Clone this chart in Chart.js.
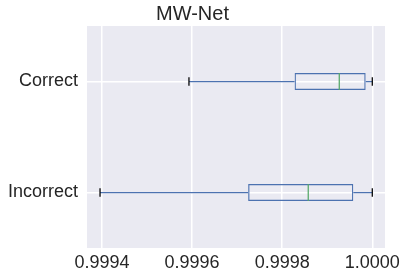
<!DOCTYPE html>
<html>
<head>
<meta charset="utf-8">
<script src="https://cdn.jsdelivr.net/npm/chart.js@4"></script>
<style>
  html, body { margin: 0; padding: 0; background: #ffffff; }
  #wrap { width: 407px; height: 280px; }
</style>
</head>
<body>
<div id="wrap"><canvas id="boxChart"></canvas></div>
<script>
// Data
const categories = ['Correct', 'Incorrect'];
const whiskerLow = [0.999593, 0.9993956];
const q1 = [0.9998275, 0.9997244];
const median = [0.9999267, 0.9998578];
const q3 = [0.9999853, 0.9999578];
const whiskerHigh = [1.0, 1.0];
const xTicks = [0.9994, 0.9996, 0.9998, 1.0];

const boxColor = '#4C72B0';
const medianColor = '#55A868';
const capColor = '#000000';

// grey plot background (seaborn darkgrid look)
const bgPlugin = {
    id: 'bgPlugin',
    beforeDraw(chart) {
        const a = chart.chartArea;
        const ctx = chart.ctx;
        ctx.save();
        ctx.fillStyle = '#EAEAF2';
        ctx.fillRect(a.left, a.top, a.right - a.left, a.bottom - a.top);
        ctx.restore();
    }
};

// whiskers, caps and medians, placed with the chart scales
const whiskerPlugin = {
    id: 'whiskerPlugin',
    afterDatasetsDraw(chart) {
        const ctx = chart.ctx;
        const x = chart.scales.x;
        const y = chart.scales.y;
        const meta = chart.getDatasetMeta(0);
        ctx.save();
        categories.forEach((c, i) => {
            const yc = y.getPixelForValue(i);
            const half = meta.data[i].height / 2;
            const capHalf = half / 2;

            ctx.lineWidth = 1.25;
            ctx.strokeStyle = boxColor;
            ctx.beginPath();
            ctx.moveTo(x.getPixelForValue(whiskerLow[i]), yc);
            ctx.lineTo(x.getPixelForValue(q1[i]), yc);
            ctx.moveTo(x.getPixelForValue(q3[i]), yc);
            ctx.lineTo(x.getPixelForValue(whiskerHigh[i]), yc);
            ctx.stroke();

            ctx.strokeStyle = capColor;
            ctx.beginPath();
            [whiskerLow[i], whiskerHigh[i]].forEach(v => {
                const px = x.getPixelForValue(v);
                ctx.moveTo(px, yc - capHalf);
                ctx.lineTo(px, yc + capHalf);
            });
            ctx.stroke();

            ctx.strokeStyle = medianColor;
            ctx.beginPath();
            const mx = x.getPixelForValue(median[i]);
            ctx.moveTo(mx, yc - half);
            ctx.lineTo(mx, yc + half);
            ctx.stroke();
        });
        ctx.restore();
    }
};

const ctx = document.getElementById('boxChart').getContext('2d');
const boxChart = new Chart(ctx, {
    type: 'bar',
    data: {
        labels: categories,
        datasets: [{
            label: 'box',
            data: categories.map((c, i) => [q1[i], q3[i]]),
            backgroundColor: 'rgba(0,0,0,0)',
            borderColor: boxColor,
            borderWidth: 1.25,
            borderSkipped: false,
            categoryPercentage: 1,
            barPercentage: 0.153
        }]
    },
    options: {
        indexAxis: 'y',
        responsive: true,
        maintainAspectRatio: false,
        animation: false,
        layout: { padding: { left: 0, right: 22, top: 0, bottom: 0 } },
        plugins: {
            legend: { display: false },
            tooltip: { enabled: false },
            title: {
                display: true,
                text: 'MW-Net',
                color: '#262626',
                font: { family: 'Liberation Sans', size: 20, weight: 'normal' },
                padding: { top: 2, bottom: 0 }
            }
        },
        scales: {
            x: {
                type: 'linear',
                min: 0.99936667,
                max: 1.0000282,
                afterBuildTicks(scale) {
                    scale.ticks = xTicks.map(v => ({ value: v }));
                },
                afterFit(scale) { scale.height = 32; },
                ticks: {
                    color: '#262626',
                    padding: 4,
                    font: { family: 'Liberation Sans', size: 18 },
                    callback: v => Number(v).toFixed(4)
                },
                grid: { color: '#ffffff', lineWidth: 1.5, drawTicks: false },
                border: { display: false }
            },
            y: {
                afterFit(scale) { scale.width = 87; },
                ticks: {
                    color: '#262626',
                    padding: 9,
                    font: { family: 'Liberation Sans', size: 18 }
                },
                grid: { color: '#ffffff', lineWidth: 1.5, drawTicks: false, offset: false },
                border: { display: false }
            }
        }
    },
    plugins: [bgPlugin, whiskerPlugin]
});
</script>
</body>
</html>
